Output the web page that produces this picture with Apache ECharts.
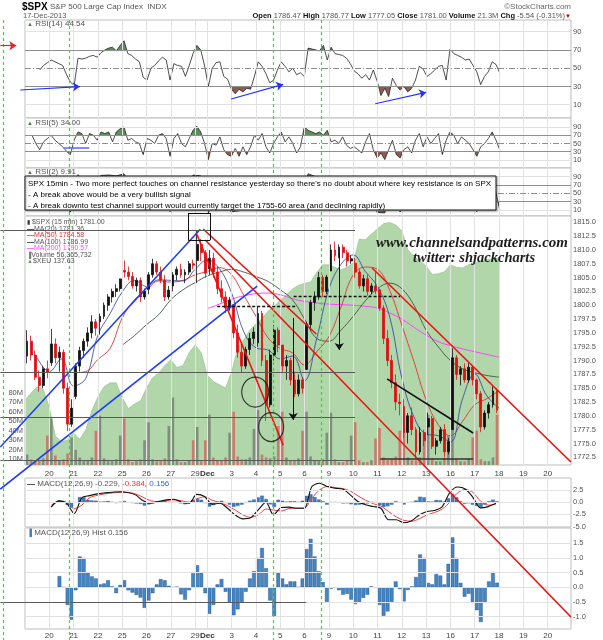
<!DOCTYPE html>
<html><head><meta charset="utf-8">
<script src="https://cdn.jsdelivr.net/npm/echarts@6/dist/echarts.min.js"></script>
<style>html,body{margin:0;padding:0;background:#fff}#c{width:603px;height:640px}</style>
</head><body><div id="c"></div>
<script>
// ---------------- DATA (x unit = half trading day, Nov 19 open = 0) ----------------
const DAY_TICKS  = [2,4,6,8,10,12,14,15,17,19,21,23,25,27,29,31,33,35,37,39,41,43];
const DAY_LABELS = ['20','21','22','25','26','27','29','Dec','3','4','5','6','9','10','11','12','13','16','17','18','19','20'];
const PRICE_TICKS = [1772.5,1775,1777.5,1780,1782.5,1785,1787.5,1790,1792.5,1795,1797.5,1800,1802.5,1805,1807.5,1810,1812.5,1815];
const VOL_TICKS = [10,20,30,40,50,60,70,80];
const RSI_TICKS = [10,30,50,70,90];
const MACD_TICKS = [-5,-2.5,0,2.5];
const HIST_TICKS = [-1,-0.5,0,0.5,1,1.5];

// 15-min chart resampled: 6 bars per full day (Nov 29 half day = 3 bars)
const OPEN = [
1790.8,1793.5,1791.0,1787.0,1785.5,1788.5, 1789.6,1793.0,1790.5,1791.5,1785.0,1778.5,
1783.5,1789.0,1791.8,1793.5,1795.0,1797.0, 1797.0,1798.0,1800.0,1801.5,1802.5,1803.0,
1806.3,1806.0,1805.2,1803.5,1804.5,1801.5, 1802.9,1805.5,1807.5,1806.0,1804.5,1801.5,
1803.5,1805.5,1806.5,1805.5,1806.0,1807.5, 1808.1,1811.0,1809.5,
1806.6,1808.5,1806.0,1803.0,1801.5,1799.5, 1800.1,1795.0,1791.5,1789.0,1792.0,1794.0,
1793.2,1798.5,1790.0,1782.0,1791.0,1795.5, 1792.8,1789.0,1790.0,1786.5,1784.0,1786.5,
1788.4,1796.5,1800.5,1801.5,1805.0,1802.5, 1806.2,1810.0,1809.0,1810.5,1809.5,1808.0,
1807.6,1806.0,1803.5,1804.8,1802.5,1803.5, 1802.8,1799.5,1794.0,1790.0,1786.0,1782.5,
1781.7,1777.0,1780.0,1777.5,1773.5,1777.0, 1778.0,1779.5,1774.5,1775.5,1777.5,1773.5,
1777.5,1790.5,1787.5,1788.5,1786.5,1788.8, 1786.5,1784.0,1778.0,1780.5,1782.0,1784.5];
const HIGH = [
1795.5,1794.5,1791.8,1788.2,1789.0,1790.0, 1795.73,1794.0,1792.5,1792.0,1786.0,1783.0,
1789.5,1792.5,1794.0,1796.0,1798.2,1797.5, 1798.5,1800.5,1802.0,1803.0,1803.8,1804.84,
1808.1,1807.0,1806.0,1805.0,1805.0,1803.0, 1806.0,1808.42,1808.0,1807.0,1805.5,1803.5,
1806.0,1807.0,1807.5,1806.5,1808.0,1808.27, 1813.55,1812.0,1810.0,
1810.0,1809.5,1807.0,1804.5,1802.5,1801.5, 1800.1,1796.5,1793.0,1792.5,1795.0,1796.0,
1799.8,1799.0,1791.0,1792.0,1796.4,1796.0, 1792.8,1791.0,1790.5,1788.0,1787.5,1787.0,
1797.0,1801.0,1802.5,1806.04,1805.5,1805.5, 1811.0,1811.52,1811.0,1811.0,1810.0,1809.0,
1808.52,1806.5,1805.5,1805.5,1804.0,1806.0, 1803.0,1800.0,1795.5,1791.0,1787.5,1784.0,
1783.0,1780.5,1781.5,1778.0,1778.0,1777.5, 1780.59,1780.0,1776.0,1778.0,1778.5,1776.0,
1792.22,1791.0,1789.0,1789.5,1789.5,1789.0, 1786.77,1784.5,1781.0,1782.5,1785.5,1785.0];
const LOW = [
1789.5,1790.0,1786.5,1784.4,1785.0,1786.8, 1789.0,1789.5,1788.0,1784.0,1777.23,1778.0,
1783.0,1788.0,1790.5,1792.5,1794.0,1794.5, 1794.7,1797.5,1799.0,1800.5,1801.5,1802.5,
1805.0,1804.5,1803.0,1802.5,1800.58,1801.0, 1802.0,1805.0,1805.5,1804.0,1800.77,1801.0,
1802.5,1804.5,1805.0,1804.0,1805.5,1806.5, 1804.0,1808.0,1805.0,
1805.5,1805.0,1802.0,1800.5,1798.6,1799.0, 1794.0,1790.5,1787.85,1788.5,1791.0,1793.0,
1792.5,1789.0,1779.09,1781.5,1790.0,1791.5, 1788.0,1786.5,1785.5,1783.38,1783.5,1784.0,
1788.4,1795.5,1799.0,1801.0,1801.5,1802.0, 1806.2,1808.0,1808.5,1808.5,1807.0,1807.5,
1805.0,1803.0,1802.5,1801.75,1802.0,1802.0, 1799.0,1793.0,1789.0,1785.0,1781.0,1780.09,
1776.0,1775.0,1776.5,1772.28,1773.0,1774.5, 1776.5,1774.0,1773.0,1775.0,1772.44,1773.0,
1777.5,1786.5,1785.5,1786.0,1786.0,1785.5, 1783.0,1777.05,1777.5,1779.5,1781.5,1780.5];
const CLOSE = [
1793.5,1791.0,1787.0,1785.5,1788.5,1787.9, 1793.0,1790.5,1791.5,1785.0,1778.5,1781.4,
1789.0,1791.8,1793.5,1795.0,1797.0,1795.85, 1798.0,1800.0,1801.5,1802.5,1803.0,1804.76,
1806.0,1805.2,1803.5,1804.5,1801.5,1802.48, 1805.5,1807.5,1806.0,1804.5,1801.5,1802.75,
1805.5,1806.5,1805.5,1806.0,1807.5,1807.23, 1811.0,1809.5,1805.8,
1808.5,1806.0,1803.0,1801.5,1799.5,1800.9, 1795.0,1791.5,1789.0,1792.0,1794.0,1795.15,
1798.5,1790.0,1782.0,1791.0,1795.5,1792.8, 1789.0,1790.0,1786.5,1784.0,1786.5,1785.0,
1796.5,1800.5,1801.5,1805.0,1802.5,1805.1, 1810.0,1809.0,1810.5,1809.5,1808.0,1808.4,
1806.0,1803.5,1804.8,1802.5,1803.5,1802.6, 1799.5,1794.0,1790.0,1786.0,1782.5,1782.2,
1777.0,1780.0,1777.5,1773.5,1777.0,1775.5, 1779.5,1774.5,1775.5,1777.5,1773.5,1775.3,
1790.5,1787.5,1788.5,1786.5,1788.8,1786.5, 1784.0,1778.0,1780.5,1782.0,1784.5,1781.0];
const VOLUME = [
15,10,8,9,11,35, 53,14,9,10,16,33, 20,12,8,9,12,40, 56,11,8,8,10,35, 53,10,7,8,10,30,
49,10,8,8,11,45, 75,10,7,7,9,30, 44,8,30,
57,12,9,9,12,38, 60,13,10,10,12,42, 62,15,12,11,13,45, 60,12,9,9,11,40, 60,13,9,8,10,38,
59,10,7,7,9,35, 49,9,7,7,9,32, 43,12,9,10,13,40, 46,12,9,9,12,38, 57,11,8,8,11,35,
41,11,8,8,11,33, 40,10,8,8,12,57];

// moving averages, one value per half day
const MA20_START = 1, MA20 = [1790.5,1788.0,1790.3,1785.4,1786.8,1794.6,1798.5,1802.4,1804.5,1803.4,1804.6,1804.5,1804.4,1806.5,1808.2,1806.6,1802.2,1795.2,1792.3,1791.9,1790.3,1790.8,1786.4,1794.0,1802.9,1807.4,1809.1,1806.1,1803.4,1797.9,1786.9,1779.8,1776.7,1776.4,1775.3,1783.1,1787.6,1783.6,1781.4];
const MA50_START = 4, MA50 = [1787.8,1788.0,1790.2,1792.2,1797.7,1801.0,1802.7,1804.4,1804.2,1804.5,1805.5,1806.1,1806.8,1805.5,1801.8,1798.0,1794.1,1792.2,1791.4,1789.2,1791.6,1794.3,1799.7,1805.5,1806.9,1806.5,1802.7,1796.4,1789.8,1782.9,1778.4,1776.4,1779.0,1782.0,1783.1,1784.6];
const MA100_START = 8, MA100 = [1792.8,1794.5,1796.5,1798.3,1801.0,1802.8,1804.1,1805.3,1806.0,1806.5,1806.0,1805.2,1804.3,1802.8,1801.0,1797.5,1794.0,1793.5,1795.5,1798.0,1800.8,1803.0,1804.0,1803.0,1800.0,1795.5,1792.5,1790.0,1788.5,1787.8,1787.3,1787.0];
const MA200_START = 15, MA200 = [1799.4,1800.2,1801.1,1801.7,1802.1,1802.2,1801.9,1801.2,1800.7,1800.4,1800.2,1800.1,1800.0,1799.8,1799.5,1798.6,1797.5,1796.0,1794.6,1793.4,1792.7,1792.1,1791.6,1791.1,1790.6];

// $XEU, every quarter day
const XEU_START = 0, XEU_STEP = 0.5, XEU = [
135.41,135.52,135.62,135.58,135.30,134.85,134.76,134.79,134.90,134.80,
134.95,135.25,135.46,135.62,135.68,135.68,135.45,135.28,135.35,135.40,
135.60,135.76,135.83,135.95,136.04,135.92,135.95,136.15,136.27,136.15,
135.80,135.70,135.65,135.60,135.85,136.22,136.35,136.50,136.60,136.68,
136.80,136.87,136.97,137.05,137.14,137.20,137.23,137.25,137.40,137.52,
137.52,137.48,137.44,137.48,137.55,137.92,137.91,138.00,138.08,138.16,
138.18,138.14,138.05,137.75,137.65,137.58,137.50,137.37,137.38,137.41,
137.52,137.48,137.47,137.52,137.55,137.57,137.60,137.61,137.63];

const RSI14_START = 1.206, RSI14_STEP = 0.3155, RSI14 = [
48,53,56,59,57,55,53,43,35,31, 61,60,61,63,64,62,67,70,72,73, 69,75,80,66,64,60,57,40,37,50,
53,58,62,59,37,55,53,52,41,53, 66,75,70,53,30,50,56,57,41,38, 27,22,27,24,28,27,41,57,52,44,
34,37,48,57,52,46,50,43,45,41, 72,71,70,69,75,59,73,66,65,64, 61,55,47,44,39,43,37,48,36,20,
28,19,39,31,26,30,24,28,37,52, 49,41,44,48,52,53,37,71,66,64, 62,59,60,53,46,32,41,46,57,54, 44.54];
const RSI5_START = 0.575, RSI5_STEP = 0.3155, RSI5 = [
70,50,35,54,62,70,58,50,42,31, 23,58,78,74,50,74,70,58,78,74, 78,54,78,86,90,58,62,54,50,23,
62,58,50,70,74,62,19,62,74,50, 42,62,82,92,78,50,11,50,46,66, 35,23,19,38,19,42,23,42,70,58,
74,42,27,50,66,78,54,66,50,27, 42,90,82,78,74,78,70,82,54,58, 50,66,46,38,42,35,27,54,74,35,
15,27,11,35,58,23,15,35,42,27, 58,74,42,66,50,62,74,23,58,78, 70,50,66,58,50,35,19,42,50,62, 78,58,34];
const RSI2_START = 0.575, RSI2_STEP = 0.6309, RSI2 = [
60,15,80,50,25,5,95,40,75,93, 94,92,97,60,45,8,45,85,6,85, 30,94,92,3,40,20,6,8,12,80,
85,15,70,60,40,25,97,90,85,45, 60,35,30,8,85,4,3,70,5,40, 60,35,50,80,10,88,70,45,6,40, 92,9.91];

const MACD_START = 2.152, MACD_STEP = 0.6309;
const MACD = [
-1.0,0.27,-0.2,-2.3,0.9,1.35,1.7,1.9,2.05,2.15, 2.0,1.5,0.3,-0.2,0.14,0.48,0.6,0.0,-0.2,1.6,
1.16,-0.4,-0.2,-1.23,-2.6,-3.4,-3.2,-1.57,0.0,-2.6, -1.1,-1.0,-1.23,-1.25,3.2,3.88,3.2,2.86,2.7,1.5,
0.14,-0.54,-0.89,-1.23,-3.6,-3.6,-4.2,-3.8,-2.6,-1.9, -1.7,-0.9,2.0,3.1,2.7,1.0,-1.2,-0.9,-0.229];
const SIGNAL = [
-0.6,0.1,0.0,-1.3,-0.6,0.9,1.4,1.7,1.9,2.0, 2.0,1.7,1.0,0.3,0.1,0.3,0.5,0.3,0.0,0.7,
1.1,0.4,-0.1,-0.7,-1.6,-2.6,-3.1,-2.6,-1.4,-1.6, -1.8,-1.3,-1.2,-1.2,0.8,2.5,3.2,3.0,2.8,2.3,
1.3,0.4,-0.3,-0.8,-1.9,-3.0,-3.7,-3.9,-3.4,-2.6, -2.1,-1.4,0.0,1.9,2.6,2.0,0.2,-0.6,-0.384];
const HIST_FIRST_BAR = 8, HIST = [
0.38,0.0,-0.6,-1.1,-0.1,1.05,1.0,0.5,0.37,0.3, 0.1,0.13,0.24,0.03,-0.2,0.08,0.24,-0.1,-0.18,-0.26,
-0.35,-0.7,-0.45,-0.2,0.1,0.28,0.24,0.05,0.0,0.02, -0.24,-0.42,-0.1,0.48,0.75,0.5,-0.2,-0.9,-0.6,0.1,
0.28,-0.15,-0.5,-0.95,-0.75,-0.5,-0.15,0.3,0.55,1.0, 1.34,0.65,-0.45,-1.0,0.5,0.3,0.1,0.2,0.2,0.01,
0.3,1.3,1.65,1.05,0.55,0.18,-0.5,-0.05,-0.02,-0.1, -0.25,-0.22,-0.42,-0.57,-0.5,-0.36,-0.25,0.03,-0.02,-0.6,
-0.97,-0.82,-0.5,0.2,-0.06,-0.48,-0.09,0.03,0.35,1.12, 1.0,0.15,0.1,0.45,0.4,0.1,0.8,1.7,1.0,0.15,
-0.32,-0.22,-0.53,-0.78,-1.18,-0.5,0.2,0.52,0.156];

// annotations drawn in price space: [x1, price1, x2, price2, colour]
const TRENDLINES = [
 [-2.031,1774.37,14.42,1813.73,'#1f3cff'],
 [-2.031,1766.77,19.10,1803.48,'#1f3cff'],
 [14.66,1813.79,23.96,1794.80,'#ee1111'],
 [14.83,1811.80,44.92,1743.63,'#ee1111'],
 [14.09,1813.07,21.24,1774.73,'#ee1111'],
 [28.56,1806.74,44.92,1771.66,'#ee1111'],
 [29.79,1786.68,36.87,1776.90,'#111111'],
 [29.22,1772.28,36.87,1772.28,'#333333']];
const FIB_NAMES = ['0.0%','38.2%','50.0%','61.8%','100.0%'];
const FIB_LEVELS = [1813.55,1787.82,1779.80,1771.96,1746.30];
const FIB_FROM = -2.031, FIB_TO = [27.16,27.16,27.16,27.16,23.13], FIB_LABEL_X = 25.3;
const DASHED = [[15.81,1799.88,22.23,1799.88],[22.10,1801.70,30.86,1801.70]];
const DOWN_ARROWS = [[22.06,1797.71,22.06,1779.27],[25.85,1809.45,25.85,1791.90]];
const TOP_BOX = [13.43,1816.68,15.24,1811.80];
const GREEN_DASH_X = [-1.785,3.64,20.40,24.37], GREEN_DASH_PRICE = [1851.58,1739.47];
const CIRCLES = [[18.94,1784.3,27,30],[20.25,1777.97,25,29]];
const PRICE_TAGS = [
 ['1813.55',14.25,1815.05],['1811.52',25.36,1813.07],['1799.88',19.35,1802.4],['1796.38',20.85,1797.5],
 ['1795.73',2.16,1796.98],['1784.38',1.34,1783.8],['1777.23',3.65,1776.2],['1785.31',18.94,1784.7],
 ['1779.09',20.25,1777.8],['1783.38',22.56,1781.96],['1782.56',32.59,1783.95],['1772.28',31.77,1771.3],
 ['1777.05',37.44,1776.2],['1792.22',35.39,1793.5]];
// arrows in RSI(14) space, line in RSI(5) space
const RSI14_ARROWS = [[-0.387,26.1,4.515,29.9,'#2233ff'],[16.96,16.2,21.24,32.2,'#2233ff'],[28.81,11.0,33.00,23.5,'#2233ff'],[-2.031,74.66,-0.715,74.66,'#ee2222']];
const RSI5_LINE = [3.23,39.8,5.29,39.8];

// ---------------- CHART ----------------
const FONT = '"Liberation Sans", Arial, sans-serif';
const X_MIN = 0, X_MAX = 44.92;
const seq = (start, step, arr) => arr.map((v, i) => [+(start + i * step).toFixed(4), v]);
const labelFor = v => { const k = DAY_TICKS.findIndex(t => Math.abs(t - v) < 1e-6); return k < 0 ? '' : (DAY_LABELS[k] === 'Dec' ? '{b|Dec}' : DAY_LABELS[k]); };

const grids = [
 {top:20, height:98}, {top:118, height:50}, {top:168, height:48},
 {top:216, height:249}, {top:478, height:49}, {top:528, height:101}
].map(g => Object.assign({left:25, right:32, show:true, borderColor:'#bdbdbd', borderWidth:1, backgroundColor:'#fff'}, g));

const xAxes = grids.map((g, i) => ({
  type:'value', gridIndex:i, min:X_MIN, max:X_MAX,
  axisLine:{show:false}, axisTick:{show:false}, splitLine:{show:false},
  axisLabel:(i === 3 || i === 5) ? {show:true, customValues:DAY_TICKS, formatter:labelFor, fontSize:8, color:'#444', margin:(i === 3 ? 5 : 3), fontFamily:FONT, rich:{b:{fontSize:8, fontWeight:'bold', color:'#333', fontFamily:FONT}}} : {show:false}
}));

function yAx(grid, min, max, ticks, fmt, pos) {
  return {type:'value', gridIndex:grid, min, max, position:pos || 'right',
    axisLine:{show:false}, axisTick:{show:false}, splitLine:{show:false},
    axisLabel: ticks ? {show:true, customValues:ticks, formatter:fmt, fontSize:7.5, color:'#555', margin:2, fontFamily:FONT} : {show:false}};
}
const yAxes = [
  yAx(0, -4.58, 102.82, RSI_TICKS, v => String(v)),
  yAx(1, -9.39, 111.8, RSI_TICKS, v => String(v)),
  yAx(2, -4.5, 110.9, RSI_TICKS, v => String(v)),
  yAx(3, 1771.11, 1816.14, PRICE_TICKS, v => v.toFixed(1)),
  yAx(3, 4.0, 266.1, VOL_TICKS, v => v + 'M', 'left'),
  yAx(3, 134.4, 138.28, null),
  yAx(4, -5.07, 4.95, MACD_TICKS, v => v.toFixed(1)),
  yAx(5, -1.42, 2.02, HIST_TICKS, v => v.toFixed(1))
];

const LIGHT = {color:'#e2e2e2', width:1, type:'solid'};
function panelMarks(yVals, extra) {
  const data = [0].concat(DAY_TICKS).map(v => ({xAxis:v, lineStyle:LIGHT}));
  yVals.forEach(v => data.push({yAxis:v, lineStyle:LIGHT}));
  (extra || []).forEach(e => data.push(e));
  return {silent:true, symbol:['none','none'], label:{show:false}, animation:false, data};
}
const RSI_LEVELS = [
  {yAxis:70, lineStyle:{color:'#8f8f8f', width:1, type:'solid'}},
  {yAxis:50, lineStyle:{color:'#8f8f8f', width:1, type:[6,2,1,2]}},
  {yAxis:30, lineStyle:{color:'#8f8f8f', width:1, type:'solid'}}];

const series = [];
const add = s => { series.push(Object.assign({animation:false, silent:true}, s)); return series.length - 1; };
const visualMaps = [];
function rsiPanel(gi, start, step, arr) {
  const d = seq(start, step, arr);
  const ai = add({type:'line', xAxisIndex:gi, yAxisIndex:gi, data:d, showSymbol:false, lineStyle:{width:0, opacity:0}, areaStyle:{origin:50, opacity:1}, z:2});
  visualMaps.push({type:'piecewise', show:false, seriesIndex:ai, dimension:1,
    pieces:[{gt:70, color:'#5f8d5f'}, {gte:30, lte:70, color:'rgba(255,255,255,0)'}, {lt:30, color:'#8d5d55'}]});
  add({type:'line', xAxisIndex:gi, yAxisIndex:gi, data:d, showSymbol:false, lineStyle:{color:'#222', width:0.8}, z:3,
    markLine:panelMarks([10,90], RSI_LEVELS)});
}
rsiPanel(0, RSI14_START, RSI14_STEP, RSI14);
rsiPanel(1, RSI5_START, RSI5_STEP, RSI5);
rsiPanel(2, RSI2_START, RSI2_STEP, RSI2);

// RSI annotations
add({type:'lines', coordinateSystem:'cartesian2d', xAxisIndex:0, yAxisIndex:0, clip:false, z:6,
  data: RSI14_ARROWS.map(a => ({coords:[[a[0],a[1]],[a[2],a[3]]], lineStyle:{color:a[4], width:1.2, opacity:1}, symbol:['none','arrow'], symbolSize:[0,7]}))});
add({type:'lines', coordinateSystem:'cartesian2d', xAxisIndex:1, yAxisIndex:1, clip:false, z:6,
  data:[{coords:[[RSI5_LINE[0],RSI5_LINE[1]],[RSI5_LINE[2],RSI5_LINE[3]]], lineStyle:{color:'#5566ff', width:1.5, opacity:1}}]});

// main panel
add({type:'line', xAxisIndex:3, yAxisIndex:5, data:seq(XEU_START, XEU_STEP, XEU), showSymbol:false,
  lineStyle:{width:0.6, color:'#8fbf86'}, areaStyle:{color:'#a9d1a1', opacity:0.9, origin:'start'}, z:1,
  markLine:panelMarks(PRICE_TICKS)});
add({type:'bar', xAxisIndex:3, yAxisIndex:4, barWidth:2.6, z:2,
  data:VOLUME.map((v, i) => ({value:[(i + 0.5) / 3, v], itemStyle:{color: CLOSE[i] < OPEN[i] ? 'rgba(214,84,84,0.7)' : 'rgba(95,95,95,0.6)'}}))});
const maLine = (start, arr, color, w) => add({type:'line', xAxisIndex:3, yAxisIndex:3, data:seq(start, 1, arr), showSymbol:false, smooth:0.4, lineStyle:{color, width:w}, z:3});
maLine(MA200_START, MA200, '#ff44ff', 1);
maLine(MA100_START, MA100, '#3d563d', 0.9);
maLine(MA50_START, MA50, '#e53030', 0.9);
maLine(MA20_START, MA20, '#2a3d9c', 0.8);
add({type:'candlestick', xAxisIndex:3, yAxisIndex:3, barWidth:2.4, z:4,
  data:OPEN.map((o, i) => [(i + 0.5) / 3, o, CLOSE[i], LOW[i], HIGH[i]]),
  itemStyle:{color:'#111', color0:'#e01010', borderColor:'#111', borderColor0:'#e01010', borderWidth:0.8}});

// annotation lines in price space (may extend past the panel)
const ann = [];
TRENDLINES.forEach(t => ann.push({coords:[[t[0],t[1]],[t[2],t[3]]], lineStyle:{color:t[4], width:1.6, opacity:1}}));
FIB_LEVELS.forEach((p, k) => ann.push({coords:[[FIB_FROM,p],[FIB_TO[k],p]], lineStyle:{color:'#5a5a5a', width:1, opacity:1}}));
DASHED.forEach(t => ann.push({coords:[[t[0],t[1]],[t[2],t[3]]], lineStyle:{color:'#111', width:1.4, type:[3,2], opacity:1}}));
DOWN_ARROWS.forEach(t => ann.push({coords:[[t[0],t[1]],[t[2],t[3]]], lineStyle:{color:'#111', width:1, opacity:1}, symbol:['none','arrow'], symbolSize:[0,7]}));
const [bx1, bp1, bx2, bp2] = TOP_BOX;
[[bx1,bp1,bx2,bp1],[bx2,bp1,bx2,bp2],[bx2,bp2,bx1,bp2],[bx1,bp2,bx1,bp1]].forEach(e => ann.push({coords:[[e[0],e[1]],[e[2],e[3]]], lineStyle:{color:'#111', width:1, opacity:1}}));
GREEN_DASH_X.forEach(x => ann.push({coords:[[x,GREEN_DASH_PRICE[0]],[x,GREEN_DASH_PRICE[1]]], lineStyle:{color:'#22e622', width:1.2, type:[3,3], opacity:1}}));
add({type:'lines', coordinateSystem:'cartesian2d', xAxisIndex:3, yAxisIndex:3, clip:false, z:5, data:ann});

const ELLIPSE = 'path://M0,50A50,50 0 1,0 100,50A50,50 0 1,0 0,50z';
add({type:'scatter', xAxisIndex:3, yAxisIndex:3, clip:false, z:6, symbol:ELLIPSE,
  data:CIRCLES.map(c => ({value:[c[0], c[1]], symbolSize:[c[2], c[3]]})),
  itemStyle:{color:'rgba(0,0,0,0)', borderColor:'#111', borderWidth:1.2}});
add({type:'scatter', xAxisIndex:3, yAxisIndex:3, clip:false, z:7, symbolSize:1, itemStyle:{opacity:0},
  data:PRICE_TAGS.map(t => ({name:t[0], value:[t[1], t[2]]})),
  label:{show:true, position:'inside', formatter:'{b}', fontSize:6.5, color:'#555', fontFamily:FONT, backgroundColor:'#fff', borderColor:'#b0b0b0', borderWidth:0.6, padding:[1,2,0,2]}});
add({type:'scatter', xAxisIndex:3, yAxisIndex:3, clip:false, z:7, symbolSize:1, itemStyle:{opacity:0},
  data:FIB_LEVELS.map((p, k) => ({name:FIB_NAMES[k] + ': ' + p.toFixed(2), value:[FIB_LABEL_X, p + 0.6]})),
  label:{show:true, position:'inside', formatter:'{b}', fontSize:6.5, color:'#777', fontFamily:FONT}});

// MACD
const macdD = seq(MACD_START, MACD_STEP, MACD);
const histD = HIST.map((v, i) => [(HIST_FIRST_BAR + i + 0.5) / 3, v]);
add({type:'bar', xAxisIndex:4, yAxisIndex:6, data:histD, barWidth:3.6, itemStyle:{color:'#3f7fc0', borderColor:'#1d4f88', borderWidth:0.3}, z:2,
  markLine:panelMarks([-2.5, 0, 2.5])});
add({type:'line', xAxisIndex:4, yAxisIndex:6, data:seq(MACD_START, MACD_STEP, SIGNAL), showSymbol:false, smooth:0.3, lineStyle:{color:'#f04040', width:1}, z:3});
add({type:'line', xAxisIndex:4, yAxisIndex:6, data:macdD, showSymbol:false, smooth:0.3, lineStyle:{color:'#111', width:1.1}, z:4});
add({type:'bar', xAxisIndex:5, yAxisIndex:7, data:histD, barWidth:3.7, itemStyle:{color:'#4585c4', borderColor:'#1b4a82', borderWidth:0.4}, z:2,
  markLine:panelMarks([-1, -0.5, 0, 0.5, 1, 1.5])});

// ---------------- TEXT ----------------
const T = (x, y, text, size, fill, o) => Object.assign({type:'text', x, y, z:100, silent:true,
  style:Object.assign({text, fontSize:size, fontFamily:FONT, fill, align:'left', verticalAlign:'middle'}, (o && o.style) || {})}, (o && o.el) || {});
const graphic = [
  T(22, 7, '$SPX', 10, '#000', {style:{fontWeight:'bold'}}),
  T(50, 7, 'S&P 500 Large Cap Index  INDX', 8, '#555'),
  T(23, 16, '17-Dec-2013', 7.5, '#555'),
  T(571, 7, '\u00a9StockCharts.com', 8, '#666', {style:{align:'right'}}),
  T(565, 16, '{b|Open} 1786.47 {b|High} 1786.77 {b|Low} 1777.05 {b|Close} 1781.00 {b|Volume} 21.3M {b|Chg} -5.54 (-0.31%)', 7.5, '#555',
    {style:{align:'right', rich:{b:{fontSize:7.5, fontWeight:'bold', fill:'#111', fontFamily:FONT}}}}),
  T(571, 16, '\u25bc', 6, '#cc0000', {style:{align:'right'}}),
  T(27, 24, '{i|\u25b2} RSI(14) 44.54', 8, '#555', {style:{rich:{i:{fontSize:6, fill:'#4a7a4a'}}}}),
  T(27, 123, '{i|\u25b2} RSI(5) 34.00', 8, '#555', {style:{rich:{i:{fontSize:6, fill:'#4a7a4a'}}}}),
  T(27, 172, '{i|\u25b2} RSI(2) 9.91', 8, '#555', {style:{rich:{i:{fontSize:6, fill:'#4a7a4a'}}}}),
  T(27, 222.5, '{i|\u25ae} $SPX (15 min) 1781.00', 7, '#555', {style:{rich:{i:{fontSize:6, fill:'#333'}}}}),
  T(27, 229, '{k|\u2014}MA(20) 1781.36', 7, '#555', {style:{rich:{k:{fontSize:7, fill:'#111', fontWeight:'bold'}}}}),
  T(27, 235.5, '{k|\u2014}MA(50) 1784.58', 7, '#e03030', {style:{rich:{k:{fontSize:7, fill:'#e03030', fontWeight:'bold'}}}}),
  T(27, 242, '{k|\u2014}MA(100) 1786.99', 7, '#555', {style:{rich:{k:{fontSize:7, fill:'#111', fontWeight:'bold'}}}}),
  T(27, 248.5, '{k|\u2014}MA(200) 1790.57', 7, '#ff44ff', {style:{rich:{k:{fontSize:7, fill:'#ff44ff', fontWeight:'bold'}}}}),
  T(27, 255, '{i|\u2590}Volume 56,365,732', 7, '#555', {style:{rich:{i:{fontSize:6, fill:'#777'}}}}),
  T(27, 261.5, '{i|\u25b2}$XEU 137.63', 7, '#555', {style:{rich:{i:{fontSize:6, fill:'#6a9a6a'}}}}),
  T(472, 243.5, 'www.channelsandpatterns.com', 15, '#1e1e1e', {style:{align:'center', fontStyle:'italic', fontWeight:'bold', fontFamily:'"Liberation Serif", "Times New Roman", serif'}}),
  T(474, 258, 'twitter: shjackcharts', 14.5, '#1e1e1e', {style:{align:'center', fontStyle:'italic', fontWeight:'bold', fontFamily:'"Liberation Serif", "Times New Roman", serif'}}),
  T(27, 483.5, '{k|\u2014} MACD(12,26,9) -0.229, {r|-0.384}, {bl|0.156}', 8, '#555', {style:{rich:{k:{fontSize:8, fill:'#111', fontWeight:'bold'}, r:{fontSize:8, fill:'#ee3333'}, bl:{fontSize:8, fill:'#3366dd'}}}}),
  T(27, 533, '{i|\u2590} MACD(12,26,9) Hist 0.156', 8, '#555', {style:{rich:{i:{fontSize:7, fill:'#3f7fc0'}}}}),
  {type:'rect', z:110, silent:true, shape:{x:25, y:176, width:471, height:34},
    style:{fill:'#fff', stroke:'#1a1a1a', lineWidth:1, shadowBlur:2, shadowOffsetX:1, shadowOffsetY:1, shadowColor:'rgba(0,0,0,0.35)'}},
  Object.assign(T(28, 183.3, "SPX 15min - Two more perfect touches on channel resistance yesterday so there's no doubt about where key resistance is on SPX", 8, '#000'), {z:111}),
  Object.assign(T(28, 194.3, '- A break above would be a very bullish signal', 8, '#000'), {z:111}),
  Object.assign(T(28, 205.3, '- A break downto test channel support would currently target the 1755-60 area (and declining rapidly)', 8, '#000'), {z:111})
];

const chart = echarts.init(document.getElementById('c'), null, {renderer:'canvas'});
chart.setOption({
  animation:false, backgroundColor:'#fff', textStyle:{fontFamily:FONT},
  grid:grids, xAxis:xAxes, yAxis:yAxes, visualMap:visualMaps, series, graphic
});
</script></body></html>
